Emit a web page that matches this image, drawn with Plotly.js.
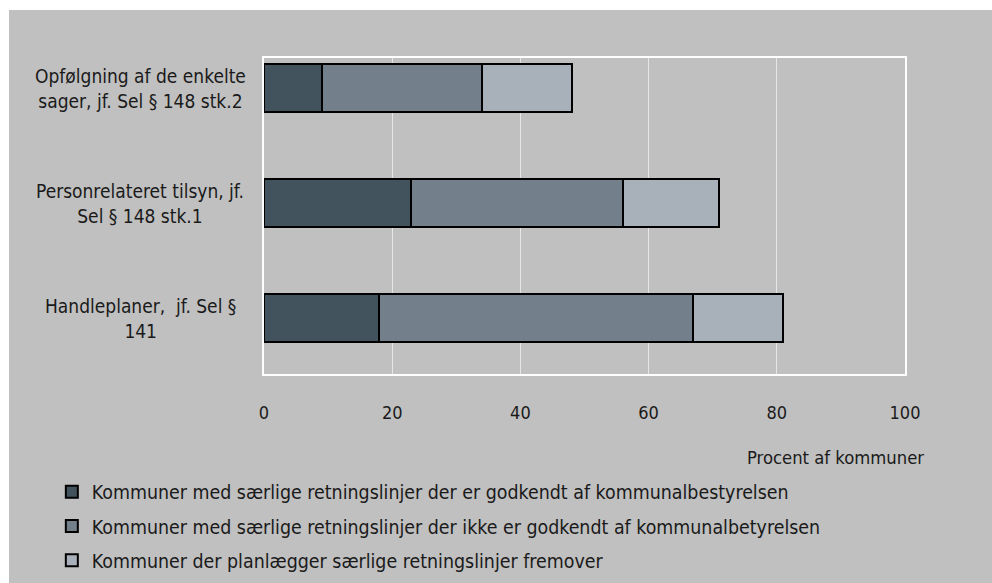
<!DOCTYPE html>
<html>
<head>
<meta charset="utf-8">
<script src="https://cdn.plot.ly/plotly-3.0.1.min.js"></script>
<style>
  html, body { margin: 0; padding: 0; background: #ffffff; }
  #chart { position: absolute; left: 9px; top: 10px; width: 983px; height: 573px; }
</style>
</head>
<body>
<div id="chart"></div>
<script>
const categories = [
  "Handleplaner,  jf. Sel §<br>141",
  "Personrelateret tilsyn, jf.<br>Sel § 148 stk.1",
  "Opfølgning af de enkelte<br>sager, jf. Sel § 148 stk.2"
];
const seriesNames = [
  "Kommuner med særlige retningslinjer der er godkendt af kommunalbestyrelsen",
  "Kommuner med særlige retningslinjer der ikke er godkendt af kommunalbetyrelsen",
  "Kommuner der planlægger særlige retningslinjer fremover"
];
const godkendt = [18, 23, 9];
const ikkeGodkendt = [49, 33, 25];
const planlaegger = [14, 15, 14];
const colors = ["#43535d", "#737f8b", "#a8b1b9"];
const xTicks = [0, 20, 40, 60, 80, 100];
const xTitle = "Procent af kommuner";

const FONT = "'Liberation Sans Narrow', 'Arial Narrow', 'DejaVu Sans Condensed', sans-serif";
const values = [godkendt, ikkeGodkendt, planlaegger];

const traces = values.map((v, i) => ({
  type: "bar",
  orientation: "h",
  name: seriesNames[i],
  x: v,
  y: categories,
  width: 0.41,
  legendgroup: "g" + i,
  marker: { color: colors[i], line: { color: "#000000", width: 2 } },
  hoverinfo: "x+name"
}));

const annotations = categories.map(c => ({
  xref: "paper", yref: "y", x: 0, y: c, xshift: -124,
  xanchor: "center", yanchor: "middle", align: "center",
  text: c, showarrow: false,
  font: { family: FONT, size: 19, color: "#1a1a1a" }
}));
annotations.push({
  xref: "paper", yref: "paper", x: 1, y: 0, xshift: 21, yshift: -83,
  xanchor: "right", yanchor: "middle", text: xTitle, showarrow: false,
  font: { family: FONT, size: 18.3, color: "#1a1a1a" }
});

const layout = {
  width: 983, height: 573,
  paper_bgcolor: "#c0c0c0", plot_bgcolor: "#c0c0c0",
  margin: { l: 255, r: 87, t: 48, b: 209, autoexpand: false },
  barmode: "stack",
  font: { family: FONT, size: 19, color: "#1a1a1a" },
  showlegend: true,
  legend: {
    x: -0.331, y: -0.312, xanchor: "left", yanchor: "top",
    orientation: "v", traceorder: "grouped", tracegroupgap: 6,
    bgcolor: "rgba(0,0,0,0)", itemwidth: 30,
    font: { family: FONT, size: 19.4, color: "#1a1a1a" }
  },
  xaxis: {
    range: [0, 100], tickvals: xTicks, ticktext: xTicks.map(String),
    showgrid: true, gridcolor: "#e6e6e6", gridwidth: 1,
    zeroline: false, showline: true, mirror: true, linecolor: "#ffffff", linewidth: 2,
    ticks: "", ticklabelstandoff: 21, fixedrange: true, automargin: false,
    tickfont: { family: FONT, size: 18, color: "#1a1a1a" }
  },
  yaxis: {
    type: "category", range: [-0.487, 2.261],
    showticklabels: false, showgrid: false, zeroline: false,
    showline: true, mirror: true, linecolor: "#ffffff", linewidth: 2,
    ticks: "", fixedrange: true, automargin: false
  },
  annotations: annotations
};

Plotly.newPlot("chart", traces, layout, { displayModeBar: false, staticPlot: true });
</script>
</body>
</html>
